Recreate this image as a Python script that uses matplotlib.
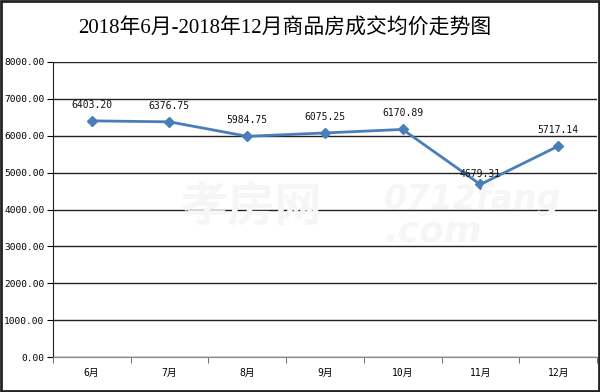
import matplotlib
matplotlib.use('Agg')
import matplotlib.pyplot as plt
from matplotlib.patches import Rectangle

months = ['6月', '7月', '8月', '9月', '10月', '11月', '12月']
prices = [6403.20, 6376.75, 5984.75, 6075.25, 6170.89, 4679.31, 5717.14]
y_ticks = [0, 1000, 2000, 3000, 4000, 5000, 6000, 7000, 8000]
title = '2018年6月-2018年12月商品房成交均价走势图'

plt.rcParams['font.family'] = ['DejaVu Sans Mono', 'Noto Sans CJK SC']

fig = plt.figure(figsize=(6, 3.92), dpi=100)
ax = fig.add_axes([0.088, 0.089, 0.907, 0.753])

x = list(range(len(months)))
ax.plot(x, prices, color='#4A7EBB', lw=2, marker='D', ms=5, zorder=3)
for xi, p in zip(x, prices):
    off = 4 if p < 5000 else 8
    ax.annotate(f'{p:.2f}', (xi, p), xytext=(0, off), textcoords='offset points',
                ha='center', va='bottom', fontsize=7, color='#111111')

ax.set_xlim(-0.5, len(months) - 0.5)
ax.set_ylim(0, 8000)
ax.set_yticks(y_ticks)
ax.set_yticklabels([f'{v:.2f}' for v in y_ticks], fontsize=6.8)
ax.set_xticks(x)
ax.set_xticklabels(months, fontsize=7)
ax.set_xticks([i + 0.5 for i in range(-1, len(months))], minor=True)
ax.tick_params(axis='x', which='major', length=0, pad=8)
ax.tick_params(axis='x', which='minor', length=4, color='#555555')
ax.tick_params(axis='y', length=4, pad=2)
ax.yaxis.grid(True, color='#222222', lw=1)
ax.set_axisbelow(True)
for s in ['top', 'right']:
    ax.spines[s].set_visible(False)
ax.spines['left'].set_color('#222222')
ax.spines['bottom'].set_color('#888888')

fig.text(0.475, 0.928, title, ha='center', va='center', fontsize=15,
         fontweight='medium', family=['Liberation Serif', 'Noto Sans CJK SC'])

# faint watermark
fig.text(0.30, 0.47, '孝房网', fontsize=34, color='#f6f6f6', fontweight='bold',
         ha='left', va='center', style='italic', zorder=0)
fig.text(0.64, 0.49, '0712fang', fontsize=24, color='#f6f6f6', fontweight='bold',
         ha='left', va='center', style='italic', family='DejaVu Sans', zorder=0)
fig.text(0.64, 0.41, '.com', fontsize=26, color='#f6f6f6', fontweight='bold',
         ha='left', va='center', style='italic', family='DejaVu Sans', zorder=0)

fig.patches.append(Rectangle((0.002, 0.003), 0.996, 0.994, transform=fig.transFigure,
                             fill=False, ec='#222222', lw=2))

fig.savefig('out.png', dpi=100)
